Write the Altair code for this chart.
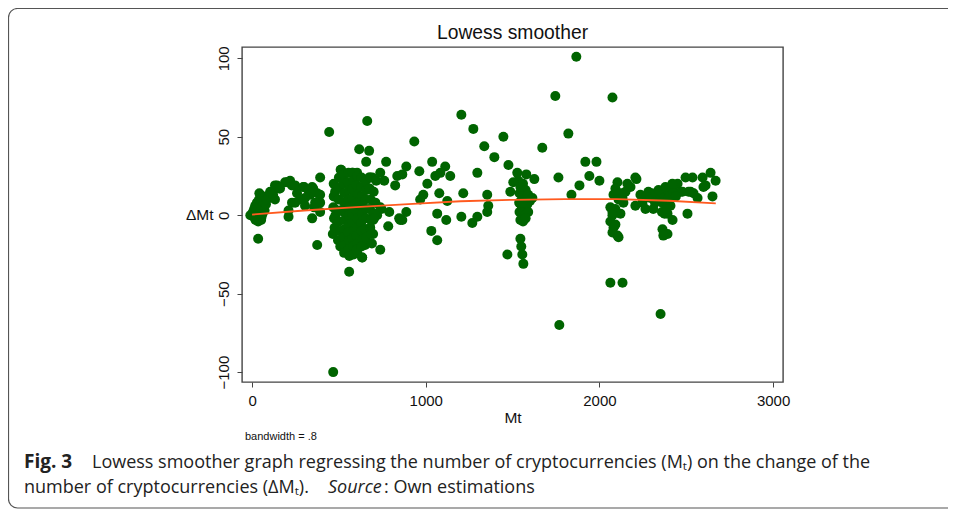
import altair as alt
import pandas as pd

# ---- data (Mt, change of Mt) ----
mt = [
    # left cluster
    -10, 5, 10, 12, 18, 20, 25, 28, 30, 35, 38, 40, 42, 45, 48, 50, 52, 55, 58, 60,
    62, 65, 70, 72, 75, 80, 35, 20, 55, 85,
    # arc 100-400
    104, 121, 132, 144, 156, 161, 190, 202, 219, 230, 248, 259, 277, 294, 300, 305,
    323, 328, 334, 346, 352, 375, 392, 392, 392, 132, 230, 248, 305, 357, 363, 210,
    210, 346, 392, 375,
    # main cluster outliers
    444, 663, 617, 674, 657, 513, 576, 605, 674, 692, 467, 559, 634, 582, 605, 496,
    536, 576, 680, 697, 651, 697, 697,
    # main cluster body
    470, 470, 468, 472, 475, 465, 478, 480,
    500, 505, 498, 502, 500, 505, 496, 510, 508,
    530, 528, 532, 530, 528, 533, 530, 527, 535, 530,
    555, 552, 558, 555, 553, 557, 555, 552, 558, 555, 560,
    580, 582, 578, 580, 583, 577, 580, 584, 578, 582, 585,
    605, 603, 608, 605, 602, 607, 605, 601, 608, 603,
    630, 628, 632, 629, 633, 628, 631, 635, 630, 634,
    655, 657, 653, 658, 655, 651, 656,
    680, 677, 683, 679, 684, 680, 686,
    700, 710, 715, 720, 690,
    # 700-900
    738, 761, 772, 836, 824, 738, 745, 703, 703, 790, 784, 847, 738, 853, 888, 865,
    888, 865,
    # 900-1500
    934, 963, 1037, 1112, 1055, 1084, 1141, 1297, 1009, 986, 968, 1078, 1124, 1216,
    1354, 1360, 1354, 1066, 1118, 1205, 1297, 1268, 1032, 1066, 1205, 1274, 1337,
    1395, 1447, 1476, 1487, 1504, 1470,
    # vertical group ~1530-1620
    1527, 1579, 1625, 1533, 1545, 1560, 1575, 1540, 1555, 1570, 1590, 1538, 1552,
    1567, 1585, 1600, 1540, 1556, 1572, 1590, 1545, 1560, 1575, 1555, 1545, 1550,
    1556, 1562, 1614,
    # 1650-2050
    1671, 1746, 1764, 1769, 1821, 1839, 1867, 1885, 1919, 1983, 1942, 2000,
    # group 2060-2220
    2075, 2104, 2161, 2213, 2179, 2092, 2121, 2150, 2081, 2110, 2138, 2063, 2092,
    2121, 2075, 2063, 2081, 2104, 2075, 2133, 2075, 2092, 2110, 2063, 2133, 2207,
    # group 2200-2680
    2207, 2236, 2248, 2265, 2282, 2294, 2334, 2352, 2363, 2369, 2392, 2398, 2409,
    2427, 2450, 2467, 2496, 2513, 2536, 2542, 2565, 2594, 2599, 2640, 2651, 2669,
    2409, 2392, 2421, 2507, 2478, 2611, 2525, 2360, 2375, 2385, 2300, 2320, 2340,
    2380, 2440, 2420, 2270, 2310, 2363, 2392, 2368, 2352,
]
dmt = [
    # left cluster
    0, 2, -1, 4, 6, 1, -2, 8, 3, -4, 5, 10, 14, 0, 7, 3, -3, 9, 5, 1,
    11, 6, 8, 3, 12, 7, -15, -3, -1, 10,
    # arc 100-400
    15, 13, 19, 19, 17, 17, 21, 21, 22, 19, 19, 14, 10, 18, 18, 6,
    16, 16, 13, 18, 17, 14, 24, 13, 8, 10, 8, 8, 11, 5, 8, 3,
    -1, -2, 2, -19,
    # main cluster outliers
    53, 60, 42, 41, 34, 29, 27, 27, 24, 24, -100, -36, -27, -24, -24, -16,
    -14, -12, -8, -12, -19, 1, -3,
    # main cluster body
    20, 12, 5, -2, -8, -12, 15, 0,
    24, 18, 10, 3, -4, -10, -16, 29, -20,
    26, 20, 14, 8, 2, -3, -9, -14, -19, -24,
    27, 21, 16, 10, 5, 0, -6, -11, -16, -22, -26,
    27, 22, 17, 11, 6, 1, -5, -10, -15, -20, -25,
    25, 19, 13, 8, 3, -2, -8, -13, -18, -22,
    24, 18, 12, 6, 1, -5, -10, -16, -20, -27,
    22, 16, 10, 4, -2, -9, -14,
    24, 17, 10, 4, -3, -8, -12,
    15, 8, 22, 0, -18,
    # 700-900
    27, 22, 34, 25, 19, 5, 4, 1, -2, 2, -7, -2, -22, -3, 2, -3,
    31, 26,
    # 900-1500
    47, 28, 34, 31, 25, 27, 25, 27, 20, 13, 10, 14, 9, 14,
    13, 6, 2, 1, -3, -1, -1, -5, -10, -16, 64, 55, 44,
    37, 50, 32, 15, 21, -25,
    # vertical group ~1530-1620
    27, 26, 23, 22, 18, 20, 16, 14, 12, 10, 13, 8, 6,
    5, 7, 9, 2, 1, 0, 2, -3, -4, -2, 8, -15, -20,
    -25, -31, 11,
    # 1650-2050
    43, 76, 24, -70, 52, 13, 101, 19, 34, 34, 25, 22,
    # group 2060-2220
    75, 21, 20, 23, 18, 17, 14, 15, 13, 10, 8, 5, 4,
    1, 2, -4, -8, -13, -11, 11, 0, -6, -14, -43, -43, 24,
    # group 2200-2680
    6, 13, 8, 4, 15, 11, 10, 13, 8, 14, 16, 11, 18,
    15, 20, 15, 24, 15, 24, 14, 11, 24, 18, 27, 12, 22,
    6, 1, -3, 1, 15, 19, 15, 2, 1, 4, 14, 8, 16,
    18, 12, 20, 12, 4, -9, -12, -13, -63,
]

# lowess smoother (bandwidth .8)
low_mt = [0, 300, 600, 900, 1200, 1500, 1800, 2100, 2400, 2670]
low_dmt = [0.4, 3.0, 5.2, 7.0, 8.9, 9.8, 10.2, 10.2, 9.2, 7.6]

x_ticks = [0, 1000, 2000, 3000]
y_ticks = [-100, -50, 0, 50, 100]

pts = pd.DataFrame({"Mt": mt, "dMt": dmt})
low = pd.DataFrame({"Mt": low_mt, "dMt": low_dmt})
one = pd.DataFrame({"k": [0]})

AX_FONT = "Liberation Sans"
CAP_FONT = "Open Sans"

xs = alt.Scale(domain=[-58, 3057], nice=False, zero=False)
ys = alt.Scale(domain=[-106.3, 107.2], nice=False, zero=False)

points = alt.Chart(pts).mark_circle(size=100, color="#006400", opacity=1).encode(
    x=alt.X("Mt:Q", scale=xs, axis=alt.Axis(
        values=x_ticks, title="Mt", grid=False, domain=False, labelFlush=False,
        tickSize=5, tickColor="#444", labelPadding=6, labelFontSize=15,
        labelFont=AX_FONT, labelColor="#111", titleFont=AX_FONT, titleFontSize=15.5,
        titleFontWeight="normal", titleColor="#111", titlePadding=2, format="d")),
    y=alt.Y("dMt:Q", scale=ys, axis=alt.Axis(
        values=y_ticks, title="ΔMt", grid=False, domain=False, labelFlush=False,
        tickSize=5, tickColor="#444", labelPadding=6, labelFontSize=15,
        labelFont=AX_FONT, labelColor="#111", labelAngle=-90, labelAlign="center",
        labelBaseline="bottom", titleFont=AX_FONT, titleFontSize=15.5,
        titleFontWeight="normal", titleColor="#111", titleAngle=0,
        titleAlign="right", titleBaseline="middle", titleX=-29, titleY=167.5, format="d")),
)

line = alt.Chart(low).mark_line(color="#ff5a1f", strokeWidth=1.8).encode(
    x=alt.X("Mt:Q", scale=xs), y=alt.Y("dMt:Q", scale=ys))


def label(text, x, y, size, font=CAP_FONT, weight="normal", style="normal",
          align="left", baseline="alphabetic", color="#222"):
    return alt.Chart(one).mark_text(
        text=text, font=font, fontSize=size, fontWeight=weight, fontStyle=style,
        align=align, baseline=baseline, color=color,
    ).encode(x=alt.value(x), y=alt.value(y))


border = alt.Chart(one).mark_rect(
    filled=False, stroke="#555", strokeWidth=1.2, cornerRadius=9
).encode(x=alt.value(-233.5), x2=alt.value(740), y=alt.value(-38.5), y2=alt.value(461))

title = label("Lowess smoother", 270.5, -14, 19.3, font=AX_FONT, align="center",
              baseline="middle", color="#111")
bw = label("bandwidth = .8", 3, 390, 11, font=AX_FONT, baseline="middle", color="#111")
cap1a = label("Fig. 3", -218, 421, 19, weight="bold")
cap1b = label("Lowess smoother graph regressing the number of cryptocurrencies (Mₜ) on the change of the",
              -150, 421, 18)
cap2a = label("number of cryptocurrencies (ΔMₜ).", -218, 446, 18)
cap2b = label("Source", 86, 446, 18, style="italic")
cap2c = label(": Own estimations", 142, 446, 18)

chart = alt.layer(
    border, points, line, title, bw, cap1a, cap1b, cap2a, cap2b, cap2c
).properties(
    width=541, height=335,
    padding={"left": 234, "top": 39, "right": 165, "bottom": 128},
    autosize=alt.AutoSizeParams(type="none"),
).configure_view(stroke="#444", strokeWidth=1.4)

chart.save("out.html", embed_options={"renderer": "svg", "actions": False})
